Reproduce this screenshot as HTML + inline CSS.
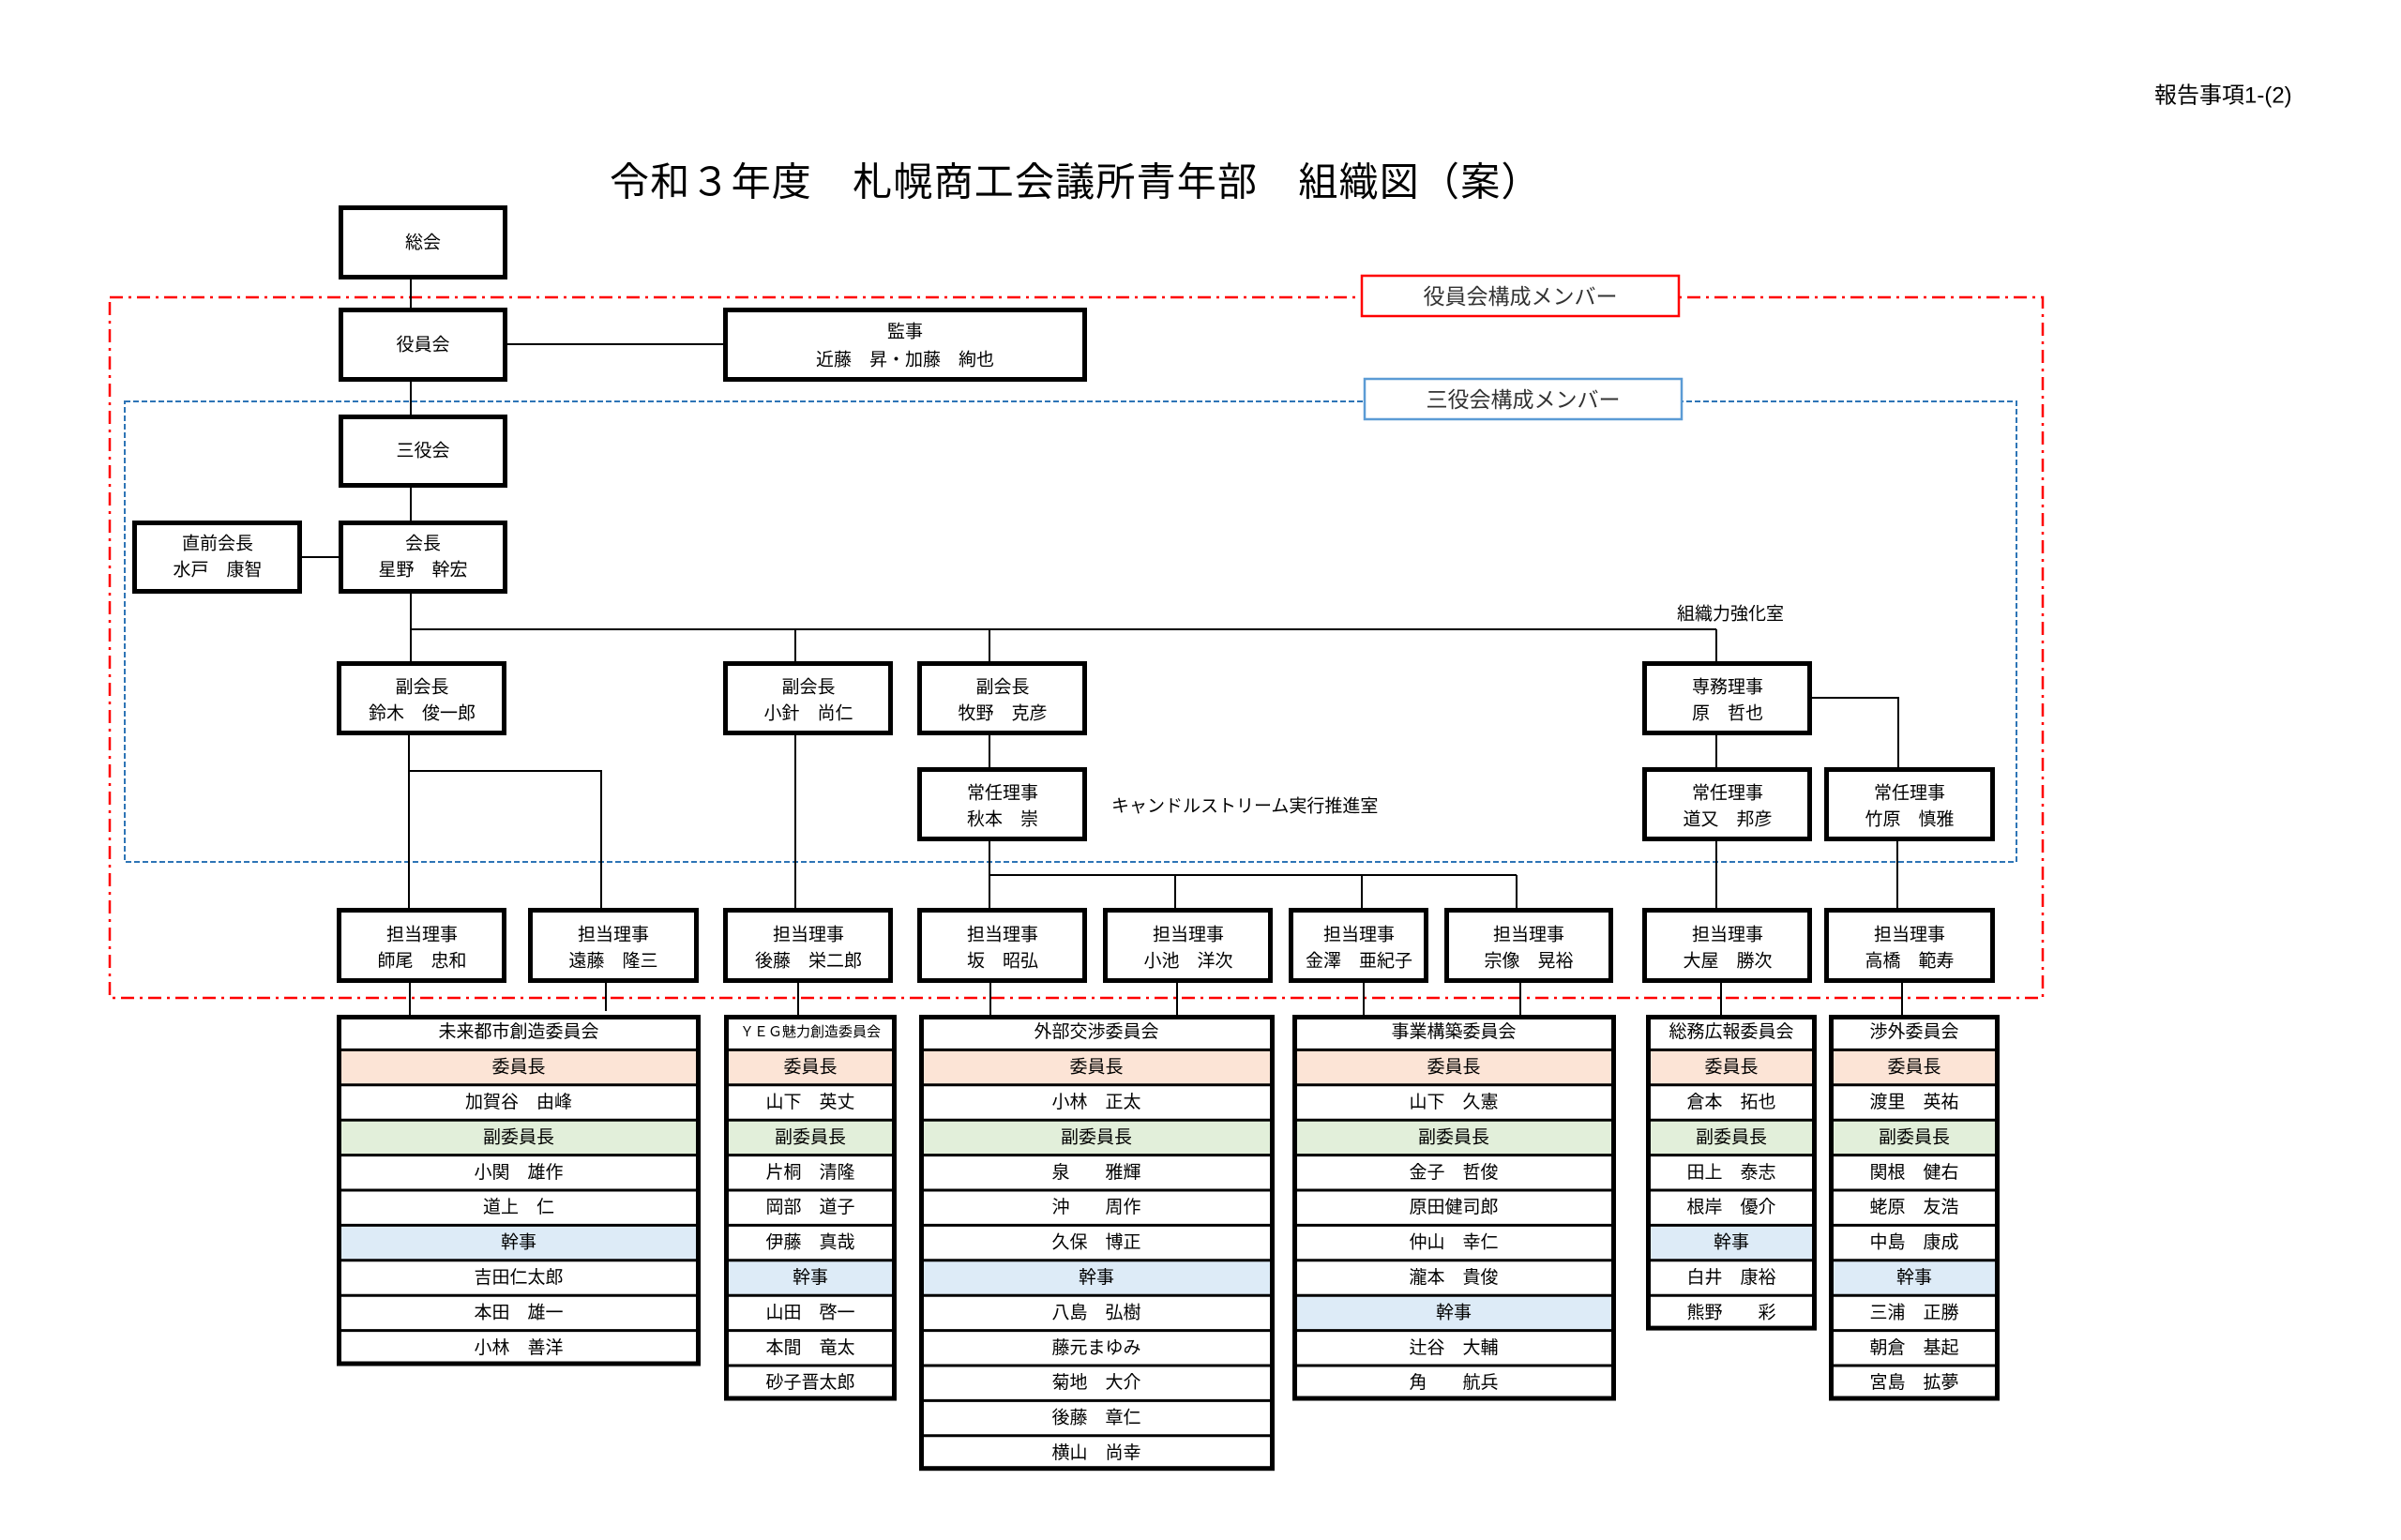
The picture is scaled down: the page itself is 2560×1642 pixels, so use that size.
<!DOCTYPE html>
<html><head><meta charset="utf-8"><style>
html,body{margin:0;padding:0;background:#fff}
svg{display:block}
text{font-family:"Liberation Sans","Noto Sans CJK JP",sans-serif;fill:#000}
</style></head><body>
<svg width="2560" height="1642" viewBox="0 0 2560 1642" xmlns="http://www.w3.org/2000/svg">
<rect width="2560" height="1642" fill="#fff"/>
<text x="2297" y="102" font-size="24" dominant-baseline="central">報告事項1-(2)</text>
<text x="650" y="194" font-size="42" letter-spacing="1.2" dominant-baseline="central">令和３年度　札幌商工会議所青年部　組織図（案）</text>

<rect x="117" y="317" width="2061" height="747" fill="none" stroke="#ff0000" stroke-width="2.5" stroke-dasharray="14 6 3 6"/>
<rect x="133" y="428" width="2017" height="491" fill="none" stroke="#2e75b6" stroke-width="2" stroke-dasharray="6 3"/>
<rect x="1452" y="294" width="338" height="43" fill="#fff" stroke="#ff0000" stroke-width="2.5"/>
<text x="1621" y="316" font-size="23" text-anchor="middle" dominant-baseline="central" style="fill:#333">役員会構成メンバー</text>
<rect x="1455" y="404" width="338" height="43" fill="#fff" stroke="#5b9bd5" stroke-width="2.5"/>
<text x="1624" y="426" font-size="23" text-anchor="middle" dominant-baseline="central" style="fill:#333">三役会構成メンバー</text>

<g stroke="#000" stroke-width="2" fill="none">
<path d="M438 298V328M438 407V442M438 520V555M438 633V705"/>
<path d="M541 367H771M322 594H361"/>
<path d="M438 671H1830M848 671V705M1055 671V705M1830 671V705"/>
<path d="M436 784V968M436 822H641V968M848 784V968"/>
<path d="M1055 784V818M1055 897V968M1055 933H1617M1253 933V968M1452 933V968M1617 933V968"/>
<path d="M1830 784V818M1932 744H2024V818M1830 897V968M2023 897V968"/>
<path d="M437 1048V1082M646 1043V1078M851 1048V1082M1056 1048V1082M1255 1048V1082M1454 1048V1082M1621 1048V1082M1835 1048V1082M2028 1048V1082"/>
</g>

<g fill="#fff" stroke="#000" stroke-width="5">
<rect x="363.5" y="221.5" width="175" height="74"/>
<rect x="363.5" y="330.5" width="175" height="74"/>
<rect x="773.5" y="330.5" width="383" height="74"/>
<rect x="363.5" y="444.5" width="175" height="73"/>
<rect x="363.5" y="557.5" width="175" height="73"/>
<rect x="143.5" y="557.5" width="176" height="73"/>
<rect x="361.5" y="707.5" width="176" height="74"/>
<rect x="773.5" y="707.5" width="176" height="74"/>
<rect x="980.5" y="707.5" width="176" height="74"/>
<rect x="1753.5" y="707.5" width="176" height="74"/>
<rect x="980.5" y="820.5" width="176" height="74"/>
<rect x="1753.5" y="820.5" width="176" height="74"/>
<rect x="1947.5" y="820.5" width="177" height="74"/>
<rect x="361.5" y="970.5" width="176" height="75"/>
<rect x="565.5" y="970.5" width="177" height="75"/>
<rect x="773.5" y="970.5" width="176" height="75"/>
<rect x="980.5" y="970.5" width="176" height="75"/>
<rect x="1178.5" y="970.5" width="176" height="75"/>
<rect x="1376.5" y="970.5" width="144" height="75"/>
<rect x="1542.5" y="970.5" width="175" height="75"/>
<rect x="1753.5" y="970.5" width="176" height="75"/>
<rect x="1947.5" y="970.5" width="177" height="75"/>
</g>

<g text-anchor="middle" dominant-baseline="central" font-size="19">
<text x="451" y="259">総会</text>
<text x="451" y="368">役員会</text>
<text x="965" y="354">監事</text><text x="965" y="384">近藤　昇・加藤　絢也</text>
<text x="451" y="481">三役会</text>
<text x="451" y="580">会長</text><text x="451" y="608">星野　幹宏</text>
<text x="232" y="580">直前会長</text><text x="232" y="608">水戸　康智</text>
<text x="450" y="733">副会長</text><text x="450" y="761">鈴木　俊一郎</text>
<text x="862" y="733">副会長</text><text x="862" y="761">小針　尚仁</text>
<text x="1069" y="733">副会長</text><text x="1069" y="761">牧野　克彦</text>
<text x="1842" y="733">専務理事</text><text x="1842" y="761">原　哲也</text>
<text x="1069" y="846">常任理事</text><text x="1069" y="874">秋本　崇</text>
<text x="1842" y="846">常任理事</text><text x="1842" y="874">道又　邦彦</text>
<text x="2036" y="846">常任理事</text><text x="2036" y="874">竹原　慎雅</text>
<text x="450" y="997">担当理事</text><text x="450" y="1025">師尾　忠和</text>
<text x="654" y="997">担当理事</text><text x="654" y="1025">遠藤　隆三</text>
<text x="862" y="997">担当理事</text><text x="862" y="1025">後藤　栄二郎</text>
<text x="1069" y="997">担当理事</text><text x="1069" y="1025">坂　昭弘</text>
<text x="1267" y="997">担当理事</text><text x="1267" y="1025">小池　洋次</text>
<text x="1449" y="997">担当理事</text><text x="1449" y="1025">金澤　亜紀子</text>
<text x="1630" y="997">担当理事</text><text x="1630" y="1025">宗像　晃裕</text>
<text x="1842" y="997">担当理事</text><text x="1842" y="1025">大屋　勝次</text>
<text x="2036" y="997">担当理事</text><text x="2036" y="1025">高橋　範寿</text>
</g>
<text x="1788" y="655" font-size="19" dominant-baseline="central">組織力強化室</text>
<text x="1185" y="860" font-size="19" dominant-baseline="central">キャンドルストリーム実行推進室</text>

<g transform="translate(359,1082)">
<rect x="0" y="37.4" width="388" height="37.4" fill="#fce4d6"/>
<rect x="0" y="112.2" width="388" height="37.4" fill="#e2efda"/>
<rect x="0" y="224.4" width="388" height="37.4" fill="#ddebf7"/>
<path d="M0 37.4H388M0 74.8H388M0 112.2H388M0 149.6H388M0 187H388M0 224.4H388M0 261.8H388M0 299.2H388M0 336.6H388" stroke="#000" stroke-width="3"/>
<rect x="2.5" y="2.5" width="383" height="369.5" fill="none" stroke="#000" stroke-width="5"/>
<g font-size="19" text-anchor="middle" dominant-baseline="central">
<text x="194" y="18.7">未来都市創造委員会</text><text x="194" y="56.1">委員長</text><text x="194" y="93.5">加賀谷　由峰</text><text x="194" y="130.9">副委員長</text><text x="194" y="168.3">小関　雄作</text><text x="194" y="205.7">道上　仁</text><text x="194" y="243.1">幹事</text><text x="194" y="280.5">吉田仁太郎</text><text x="194" y="317.9">本田　雄一</text><text x="194" y="355.3">小林　善洋</text>
</g></g>

<g transform="translate(772,1082)">
<rect x="0" y="37.4" width="184" height="37.4" fill="#fce4d6"/>
<rect x="0" y="112.2" width="184" height="37.4" fill="#e2efda"/>
<rect x="0" y="261.8" width="184" height="37.4" fill="#ddebf7"/>
<path d="M0 37.4H184M0 74.8H184M0 112.2H184M0 149.6H184M0 187H184M0 224.4H184M0 261.8H184M0 299.2H184M0 336.6H184M0 374H184" stroke="#000" stroke-width="3"/>
<rect x="2.5" y="2.5" width="179" height="406.5" fill="none" stroke="#000" stroke-width="5"/>
<g font-size="19" text-anchor="middle" dominant-baseline="central">
<text x="92" y="18.7" font-size="15">ＹＥＧ魅力創造委員会</text><text x="92" y="56.1">委員長</text><text x="92" y="93.5">山下　英丈</text><text x="92" y="130.9">副委員長</text><text x="92" y="168.3">片桐　清隆</text><text x="92" y="205.7">岡部　道子</text><text x="92" y="243.1">伊藤　真哉</text><text x="92" y="280.5">幹事</text><text x="92" y="317.9">山田　啓一</text><text x="92" y="355.3">本間　竜太</text><text x="92" y="392.7">砂子晋太郎</text>
</g></g>

<g transform="translate(980,1082)">
<rect x="0" y="37.4" width="379" height="37.4" fill="#fce4d6"/>
<rect x="0" y="112.2" width="379" height="37.4" fill="#e2efda"/>
<rect x="0" y="261.8" width="379" height="37.4" fill="#ddebf7"/>
<path d="M0 37.4H379M0 74.8H379M0 112.2H379M0 149.6H379M0 187H379M0 224.4H379M0 261.8H379M0 299.2H379M0 336.6H379M0 374H379M0 411.4H379M0 448.8H379" stroke="#000" stroke-width="3"/>
<rect x="2.5" y="2.5" width="374" height="481.2" fill="none" stroke="#000" stroke-width="5"/>
<g font-size="19" text-anchor="middle" dominant-baseline="central">
<text x="189" y="18.7">外部交渉委員会</text><text x="189" y="56.1">委員長</text><text x="189" y="93.5">小林　正太</text><text x="189" y="130.9">副委員長</text><text x="189" y="168.3">泉　　雅輝</text><text x="189" y="205.7">沖　　周作</text><text x="189" y="243.1">久保　博正</text><text x="189" y="280.5">幹事</text><text x="189" y="317.9">八島　弘樹</text><text x="189" y="355.3">藤元まゆみ</text><text x="189" y="392.7">菊地　大介</text><text x="189" y="430.1">後藤　章仁</text><text x="189" y="467.5">横山　尚幸</text>
</g></g>

<g transform="translate(1378,1082)">
<rect x="0" y="37.4" width="345" height="37.4" fill="#fce4d6"/>
<rect x="0" y="112.2" width="345" height="37.4" fill="#e2efda"/>
<rect x="0" y="299.2" width="345" height="37.4" fill="#ddebf7"/>
<path d="M0 37.4H345M0 74.8H345M0 112.2H345M0 149.6H345M0 187H345M0 224.4H345M0 261.8H345M0 299.2H345M0 336.6H345M0 374H345" stroke="#000" stroke-width="3"/>
<rect x="2.5" y="2.5" width="340" height="406.5" fill="none" stroke="#000" stroke-width="5"/>
<g font-size="19" text-anchor="middle" dominant-baseline="central">
<text x="172" y="18.7">事業構築委員会</text><text x="172" y="56.1">委員長</text><text x="172" y="93.5">山下　久憲</text><text x="172" y="130.9">副委員長</text><text x="172" y="168.3">金子　哲俊</text><text x="172" y="205.7">原田健司郎</text><text x="172" y="243.1">仲山　幸仁</text><text x="172" y="280.5">瀧本　貴俊</text><text x="172" y="317.9">幹事</text><text x="172" y="355.3">辻谷　大輔</text><text x="172" y="392.7">角　　航兵</text>
</g></g>

<g transform="translate(1755,1082)">
<rect x="0" y="37.4" width="182" height="37.4" fill="#fce4d6"/>
<rect x="0" y="112.2" width="182" height="37.4" fill="#e2efda"/>
<rect x="0" y="224.4" width="182" height="37.4" fill="#ddebf7"/>
<path d="M0 37.4H182M0 74.8H182M0 112.2H182M0 149.6H182M0 187H182M0 224.4H182M0 261.8H182M0 299.2H182" stroke="#000" stroke-width="3"/>
<rect x="2.5" y="2.5" width="177" height="331.6" fill="none" stroke="#000" stroke-width="5"/>
<g font-size="19" text-anchor="middle" dominant-baseline="central">
<text x="91" y="18.7">総務広報委員会</text><text x="91" y="56.1">委員長</text><text x="91" y="93.5">倉本　拓也</text><text x="91" y="130.9">副委員長</text><text x="91" y="168.3">田上　泰志</text><text x="91" y="205.7">根岸　優介</text><text x="91" y="243.1">幹事</text><text x="91" y="280.5">白井　康裕</text><text x="91" y="317.9">熊野　　彩</text>
</g></g>

<g transform="translate(1950,1082)">
<rect x="0" y="37.4" width="182" height="37.4" fill="#fce4d6"/>
<rect x="0" y="112.2" width="182" height="37.4" fill="#e2efda"/>
<rect x="0" y="261.8" width="182" height="37.4" fill="#ddebf7"/>
<path d="M0 37.4H182M0 74.8H182M0 112.2H182M0 149.6H182M0 187H182M0 224.4H182M0 261.8H182M0 299.2H182M0 336.6H182M0 374H182" stroke="#000" stroke-width="3"/>
<rect x="2.5" y="2.5" width="177" height="406.5" fill="none" stroke="#000" stroke-width="5"/>
<g font-size="19" text-anchor="middle" dominant-baseline="central">
<text x="91" y="18.7">渉外委員会</text><text x="91" y="56.1">委員長</text><text x="91" y="93.5">渡里　英祐</text><text x="91" y="130.9">副委員長</text><text x="91" y="168.3">関根　健右</text><text x="91" y="205.7">蛯原　友浩</text><text x="91" y="243.1">中島　康成</text><text x="91" y="280.5">幹事</text><text x="91" y="317.9">三浦　正勝</text><text x="91" y="355.3">朝倉　基起</text><text x="91" y="392.7">宮島　拡夢</text>
</g></g>
</svg>
</body></html>
